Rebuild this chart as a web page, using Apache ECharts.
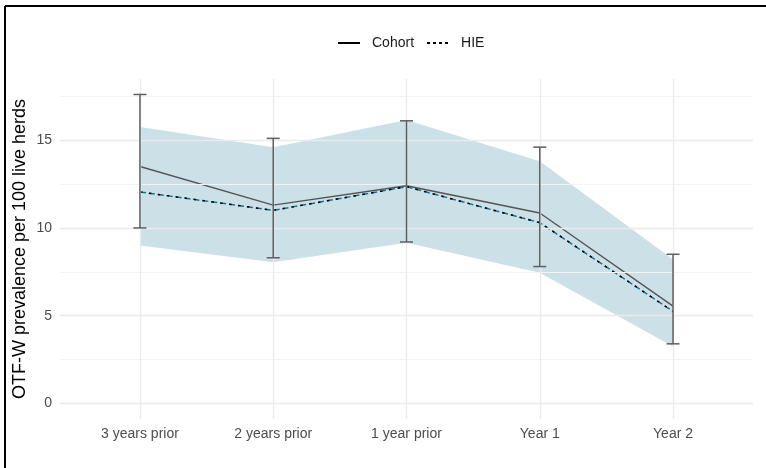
<!DOCTYPE html>
<html>
<head>
<meta charset="utf-8">
<script src="https://cdn.jsdelivr.net/npm/echarts@6/dist/echarts.min.js"></script>
<style>
  html, body { margin: 0; padding: 0; background: #fff; }
  #chart { width: 766px; height: 468px; }
</style>
</head>
<body>
<div id="chart"></div>
<script>
// values
const categories = ['3 years prior', '2 years prior', '1 year prior', 'Year 1', 'Year 2']
const cohort = [13.5, 11.3, 12.4, 10.85, 5.55]
const hie = [12.05, 11.0, 12.35, 10.3, 5.25]
const ribbonLow = [9.0, 8.05, 9.15, 7.45, 3.25]
const ribbonHigh = [15.75, 14.6, 16.15, 13.8, 8.2]
const errLow = [10.0, 8.3, 9.2, 7.8, 3.4]
const errHigh = [17.6, 15.1, 16.1, 14.6, 8.5]
const yTicks = [0, 5, 10, 15]
const yMinorTicks = [2.5, 7.5, 12.5, 17.5]
const xTicks = [0, 1, 2, 3, 4]

const fontFamily = "'Liberation Sans', Arial, sans-serif"
let myChart = echarts.init(document.getElementById('chart'))

const gridLines = []
yTicks.forEach(v => gridLines.push({ yAxis: v, lineStyle: { color: '#ebebeb', width: 1.4, type: 'solid' } }))
yMinorTicks.forEach(v => gridLines.push({ yAxis: v, lineStyle: { color: '#f3f3f3', width: 1, type: 'solid' } }))
xTicks.forEach(v => gridLines.push({ xAxis: v, lineStyle: { color: '#ebebeb', width: 1.4, type: 'solid' } }))

let option = {
  animation: false,
  textStyle: { fontFamily: fontFamily },
  graphic: [
    { type: 'line', shape: { x1: 5, y1: 6, x2: 766, y2: 6 }, style: { stroke: '#000', lineWidth: 2 } },
    { type: 'line', shape: { x1: 5, y1: 6, x2: 5, y2: 468 }, style: { stroke: '#000', lineWidth: 2 } }
  ],
  legend: {
    left: 332,
    top: 31,
    itemWidth: 22,
    itemHeight: 14,
    itemGap: 12,
    textStyle: { fontSize: 14, color: '#1a1a1a', padding: [0, 0, 0, 7] },
    data: [
      { name: 'Cohort', itemStyle: { opacity: 0 }, lineStyle: { color: '#000', width: 2, type: 'solid' } },
      { name: 'HIE', itemStyle: { opacity: 0 }, lineStyle: { color: '#000', width: 2, type: [3, 3] } }
    ]
  },
  grid: { left: 60, right: 13, top: 79, bottom: 49 },
  xAxis: {
    type: 'value',
    min: -0.6,
    max: 4.6,
    axisLine: { show: false },
    axisTick: { show: false },
    splitLine: { show: false },
    axisLabel: {
      customValues: xTicks,
      formatter: v => categories[v],
      color: '#4d4d4d',
      fontSize: 14,
      margin: 8
    }
  },
  yAxis: {
    type: 'value',
    min: -0.88,
    max: 18.48,
    name: 'OTF-W prevalence per 100 live herds',
    nameLocation: 'middle',
    nameGap: 31,
    nameMoveOverlap: false,
    nameTextStyle: { fontSize: 18, color: '#000' },
    axisLine: { show: false },
    axisTick: { show: false },
    splitLine: { show: false },
    axisLabel: {
      customValues: yTicks,
      color: '#4d4d4d',
      fontSize: 14,
      margin: 8
    }
  },
  series: [
    {
      name: 'grid',
      type: 'line',
      data: [],
      z: 0,
      silent: true,
      markLine: { silent: true, symbol: 'none', label: { show: false }, animation: false, data: gridLines }
    },
    {
      name: 'ribbon',
      type: 'custom',
      z: 1,
      silent: true,
      data: xTicks.map(i => [i, ribbonLow[i], ribbonHigh[i]]),
      renderItem: function (params, api) {
        if (params.dataIndex !== 0) return
        const pts = []
        xTicks.forEach(i => pts.push(api.coord([i, ribbonHigh[i]])))
        xTicks.slice().reverse().forEach(i => pts.push(api.coord([i, ribbonLow[i]])))
        return {
          type: 'polygon',
          shape: { points: pts },
          style: { fill: 'rgba(0,100,140,0.2)' }
        }
      }
    },
    {
      name: 'Cohort',
      type: 'line',
      z: 3,
      symbol: 'none',
      data: xTicks.map(i => [i, cohort[i]]),
      lineStyle: { color: '#555', width: 1.4 }
    },
    {
      name: 'HIE teal',
      type: 'line',
      z: 3,
      symbol: 'none',
      data: xTicks.map(i => [i, hie[i]]),
      lineStyle: { color: '#1c6f90', width: 1.5, type: [6, 3] }
    },
    {
      name: 'HIE',
      type: 'line',
      z: 4,
      symbol: 'none',
      data: xTicks.map(i => [i, hie[i]]),
      lineStyle: { color: '#000', width: 1.5, type: [2.5, 6.5] }
    },
    {
      name: 'error',
      type: 'custom',
      z: 5,
      silent: true,
      data: xTicks.map(i => [i, errLow[i], errHigh[i]]),
      renderItem: function (params, api) {
        const lo = api.coord([api.value(0), api.value(1)])
        const hi = api.coord([api.value(0), api.value(2)])
        const half = 6.5
        const style = { stroke: '#5f5f5f', lineWidth: 1.5 }
        return {
          type: 'group',
          children: [
            { type: 'line', shape: { x1: lo[0], y1: lo[1], x2: hi[0], y2: hi[1] }, style: style },
            { type: 'line', shape: { x1: lo[0] - half, y1: lo[1], x2: lo[0] + half, y2: lo[1] }, style: style },
            { type: 'line', shape: { x1: hi[0] - half, y1: hi[1], x2: hi[0] + half, y2: hi[1] }, style: style }
          ]
        }
      }
    }
  ]
}

myChart.setOption(option)
</script>
</body>
</html>
